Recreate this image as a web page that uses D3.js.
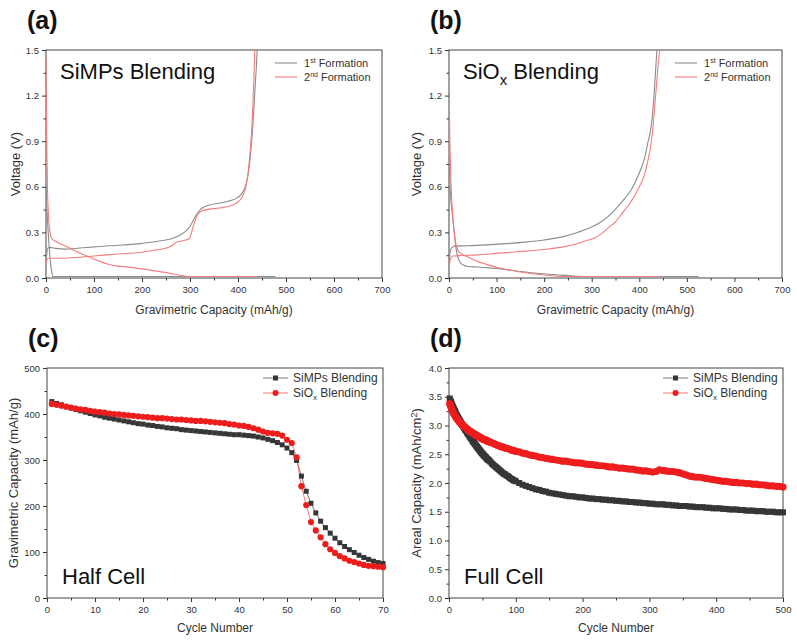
<!DOCTYPE html>
<html>
<head>
<meta charset="utf-8">
<script src="https://cdn.jsdelivr.net/npm/d3@7"></script>
<style>
  body { margin: 0; background: #fff; }
  text { font-family: "Liberation Sans", Arial, sans-serif; }
</style>
</head>
<body>
<script>
// ---------------- DATA ----------------
// (a) SiMPs Blending voltage profiles [capacity mAh/g, voltage V]
const a1Discharge = [[0,0.60],[2,0.45],[4,0.33],[6,0.23],[8,0.15],[10,0.08],[12,0.04],[14,0.012],[16,0.01],[478,0.01]];
const a1Charge = [[0,0.10],[2,0.17],[5,0.2],[10,0.2],[20,0.195],[40,0.19],[70,0.197],[100,0.205],[150,0.215],[200,0.228],[240,0.245],[265,0.262],[280,0.285],[292,0.31],[300,0.34],[307,0.38],[313,0.415],[320,0.445],[328,0.465],[340,0.48],[360,0.492],[380,0.505],[400,0.53],[410,0.565],[416,0.61],[421,0.68],[425,0.78],[429,0.92],[432,1.05],[435,1.22],[438,1.38],[440,1.5]];
const a2Discharge = [[0,1.45],[1,1.1],[2,0.8],[3,0.6],[5,0.42],[8,0.31],[12,0.26],[18,0.245],[30,0.225],[50,0.195],[70,0.165],[90,0.138],[110,0.112],[130,0.09],[150,0.078],[175,0.07],[200,0.06],[230,0.045],[260,0.03],[285,0.015],[295,0.01],[440,0.01]];
const a2Charge = [[0,0.10],[2,0.12],[5,0.13],[30,0.13],[60,0.135],[100,0.145],[150,0.158],[196,0.168],[230,0.185],[251,0.197],[262,0.212],[271,0.234],[285,0.245],[298,0.258],[306,0.33],[311,0.38],[316,0.416],[324,0.44],[335,0.45],[361,0.46],[385,0.475],[400,0.5],[410,0.54],[417,0.61],[422,0.72],[426,0.86],[429,1.0],[431,1.15],[433,1.3],[435,1.5]];
// (b) SiOx Blending voltage profiles
const b1Discharge = [[0,0.8],[1,0.7],[3,0.55],[6,0.45],[8.4,0.38],[12,0.27],[15.5,0.18],[19,0.135],[23,0.105],[30,0.085],[40,0.076],[60,0.072],[80,0.068],[100,0.062],[120,0.054],[150,0.043],[190,0.03],[230,0.02],[270,0.012],[290,0.01],[525,0.01]];
const b1Charge = [[0,0.03],[1,0.12],[3,0.18],[6,0.2],[12,0.21],[40,0.212],[80,0.218],[120,0.226],[160,0.236],[200,0.25],[240,0.272],[270,0.3],[300,0.335],[320,0.37],[340,0.42],[355,0.47],[370,0.525],[385,0.59],[395,0.655],[405,0.73],[412,0.8],[418,0.89],[423,0.96],[427,1.05],[431,1.2],[434,1.35],[437,1.5]];
const b2Discharge = [[0,1.5],[1,1.1],[3,0.75],[6,0.5],[10,0.33],[15,0.22],[20,0.175],[28,0.155],[40,0.138],[55,0.115],[80,0.088],[100,0.07],[125,0.055],[150,0.04],[180,0.026],[210,0.016],[240,0.01],[445,0.01]];
const b2Charge = [[0,0.03],[1,0.08],[3,0.125],[8,0.145],[30,0.148],[60,0.152],[100,0.162],[150,0.174],[200,0.188],[240,0.205],[265,0.222],[285,0.242],[305,0.262],[320,0.29],[335,0.33],[350,0.37],[365,0.43],[380,0.49],[390,0.54],[400,0.6],[410,0.67],[418,0.77],[424,0.87],[429,1.0],[433,1.15],[437,1.3],[440,1.42],[443,1.5]];

// (c) Half cell cycling, cycles 1..70 (mAh/g)
const halfCycles = d3.range(1, 71);
const halfSiMPs = [427,423,420,416,413,410,407,404,401,398,396,393,391,389,387,385,383,381,379,378,376,375,373,372,370,369,368,366,365,364,363,362,361,360,359,358,357,356,355,355,354,353,352,350,348,345,342,338,333,326,316,299,265,232,206,185,167,153,141,130,120,112,105,99,93,88,84,80,77,75];
const halfSiOx = [422,420,418,416,414,412,410,409,407,405,404,403,401,400,399,398,397,396,395,394,393,392,391,391,390,389,388,388,387,386,385,385,384,383,382,381,380,378,377,375,374,372,369,366,362,359,358,357,353,344,337,306,243,202,165,147,132,117,106,98,91,86,81,78,75,72,70,69,68,67];

// (d) Full cell cycling (mAh/cm2)
const fullCycles = [1,2,3,4,5,6,7,8,9,10,11,12,13,14,15,16,17,18,19,20,21,22,23,24,25,26,27,28,29,30,
  31,32,33,34,35,36,37,38,39,40,41,42,43,44,45,46,47,48,49,50,51,52,53,54,55,56,57,58,59,60,
  62,64,66,68,70,72,74,76,78,80,82,84,86,88,90,92,94,96,98,100,
  105,110,115,120,125,130,135,140,145,150,155,160,165,170,175,180,185,190,195,200,
  205,210,215,220,225,230,235,240,245,250,255,260,265,270,275,280,285,290,295,300,305,310,315,320,325,330,335,340,345,350,
  355,360,365,370,375,380,385,390,395,400,405,410,415,420,425,430,435,440,445,450,455,460,465,470,475,480,485,490,495,500];
const fullSiMPs = [3.47,3.44,3.41,3.38,3.35,3.32,3.30,3.27,3.25,3.22,3.19,3.17,3.15,3.13,3.11,3.09,3.07,3.05,3.03,3.01,
  2.99,2.97,2.95,2.93,2.92,2.90,2.88,2.86,2.85,2.83,2.81,2.79,2.78,2.76,2.74,2.72,2.71,2.69,2.68,2.66,
  2.64,2.63,2.61,2.60,2.58,2.57,2.55,2.54,2.52,2.51,2.50,2.48,2.47,2.46,2.45,2.43,2.42,2.41,2.40,2.39,
  2.37,2.34,2.32,2.30,2.28,2.26,2.24,2.22,2.20,2.18,2.16,2.15,2.13,2.12,2.10,2.08,2.07,2.05,2.04,2.03,
  2.00,1.97,1.95,1.93,1.91,1.89,1.88,1.86,1.85,1.83,
  1.82,1.81,1.80,1.79,1.78,1.77,1.77,1.76,1.75,1.75,1.74,1.73,1.73,1.72,1.72,1.71,1.71,1.70,1.70,1.69,
  1.69,1.68,1.68,1.67,1.67,1.66,1.66,1.65,1.65,1.64,1.64,1.63,1.63,1.63,1.62,1.62,1.61,1.61,1.60,1.60,
  1.60,1.59,1.59,1.58,1.58,1.58,1.57,1.57,1.56,1.56,1.56,1.55,1.55,1.54,1.54,1.54,1.53,1.53,1.52,1.52,
  1.52,1.51,1.51,1.51,1.50,1.50,1.50,1.49,1.49,1.49];
const fullSiOx = [3.38,3.35,3.32,3.29,3.26,3.23,3.21,3.19,3.17,3.15,3.13,3.12,3.10,3.09,3.07,3.06,3.05,3.03,3.02,3.01,
  3.00,2.99,2.98,2.97,2.96,2.95,2.94,2.93,2.92,2.91,2.90,2.90,2.89,2.88,2.87,2.87,2.86,2.85,2.84,2.84,
  2.83,2.82,2.82,2.81,2.80,2.80,2.79,2.78,2.78,2.77,2.76,2.76,2.75,2.75,2.75,2.74,2.73,2.73,2.72,2.72,
  2.71,2.70,2.69,2.68,2.67,2.66,2.65,2.64,2.63,2.63,2.62,2.61,2.60,2.60,2.59,2.58,2.57,2.57,2.56,2.55,
  2.54,2.52,2.51,2.49,2.48,2.47,2.45,2.44,2.43,2.42,
  2.41,2.40,2.39,2.38,2.38,2.37,2.36,2.35,2.35,2.34,2.33,2.32,2.32,2.31,2.30,2.30,2.29,2.28,2.28,2.27,
  2.26,2.26,2.25,2.24,2.24,2.23,2.22,2.21,2.21,2.20,2.19,2.20,2.23,2.22,2.21,2.20,2.20,2.19,2.18,2.16,
  2.14,2.12,2.11,2.10,2.10,2.09,2.08,2.07,2.06,2.05,2.04,2.03,2.03,2.02,2.01,2.01,2.00,2.00,1.99,1.99,
  1.98,1.98,1.97,1.97,1.96,1.95,1.95,1.94,1.94,1.93];

// ---------------- DRAW ----------------
const W = 797, H = 642;
const svg = d3.select("body").append("svg").attr("width", W).attr("height", H);
svg.append("rect").attr("width", W).attr("height", H).attr("fill", "#fff");

const GRAY = "#8c8c8c", PINK = "#f47c7c", DARK = "#363636", RED = "#ee1d1d";
const tickColor = "#333";

function panel(cfg) {
  const g = svg.append("g");
  const x = d3.scaleLinear().domain(cfg.xDomain).range([cfg.x0, cfg.x1]);
  const y = d3.scaleLinear().domain(cfg.yDomain).range([cfg.y1, cfg.y0]);

  g.append("g").attr("transform", `translate(0,${cfg.y1})`)
    .call(d3.axisBottom(x).tickValues(cfg.xMinor).tickSize(2.5).tickFormat(""))
    .call(s => { s.select(".domain").remove(); s.selectAll("line").attr("stroke", tickColor); });
  g.append("g").attr("transform", `translate(${cfg.x0},0)`)
    .call(d3.axisLeft(y).tickValues(cfg.yMinor).tickSize(2.5).tickFormat(""))
    .call(s => { s.select(".domain").remove(); s.selectAll("line").attr("stroke", tickColor); });
  g.append("g").attr("transform", `translate(0,${cfg.y1})`)
    .call(d3.axisBottom(x).tickValues(cfg.xTicks).tickSize(4).tickPadding(4).tickFormat(cfg.xFmt))
    .call(s => { s.select(".domain").remove(); s.selectAll("line").attr("stroke", tickColor);
      s.selectAll("text").attr("fill", "#333").attr("font-size", 9.5).attr("font-family", "Liberation Sans, Arial"); });
  g.append("g").attr("transform", `translate(${cfg.x0},0)`)
    .call(d3.axisLeft(y).tickValues(cfg.yTicks).tickSize(4).tickPadding(3).tickFormat(cfg.yFmt))
    .call(s => { s.select(".domain").remove(); s.selectAll("line").attr("stroke", tickColor);
      s.selectAll("text").attr("fill", "#333").attr("font-size", 9.5).attr("font-family", "Liberation Sans, Arial"); });

  g.append("rect").attr("x", cfg.x0).attr("y", cfg.y0)
    .attr("width", cfg.x1 - cfg.x0).attr("height", cfg.y1 - cfg.y0)
    .attr("fill", "none").attr("stroke", "#444").attr("stroke-width", 1);

  g.append("text").attr("x", (cfg.x0 + cfg.x1) / 2).attr("y", cfg.xTitleY)
    .attr("text-anchor", "middle").attr("font-size", 12).attr("fill", "#333").text(cfg.xTitle);
  const yt = g.append("text").attr("transform", `translate(${cfg.yTitleX},${(cfg.y0 + cfg.y1) / 2}) rotate(-90)`)
    .attr("text-anchor", "middle").attr("font-size", 13).attr("fill", "#333");
  cfg.yTitle(yt);

  g.append("text").attr("x", cfg.x0 - 19).attr("y", cfg.y0 - 21)
    .attr("font-size", 25).attr("font-weight", "bold").attr("fill", "#111").text(cfg.letter);

  return { g, x, y };
}

function profilePanel(cfg, curves, label) {
  const p = panel(cfg);
  const clipId = "clip" + cfg.letter.replace(/\W/g, "");
  svg.append("clipPath").attr("id", clipId).append("rect")
    .attr("x", cfg.x0).attr("y", cfg.y0 - 1).attr("width", cfg.x1 - cfg.x0).attr("height", cfg.y1 - cfg.y0 + 1);
  const line = d3.line().x(d => p.x(d[0])).y(d => p.y(d[1])).curve(d3.curveMonotoneX);
  const cg = p.g.append("g").attr("clip-path", `url(#${clipId})`);
  curves.forEach(c => {
    cg.append("path").datum(c.data).attr("d", line).attr("fill", "none")
      .attr("stroke", c.color).attr("stroke-width", 1.1);
  });
  label(p.g.append("text").attr("x", cfg.x0 + 14).attr("y", cfg.y0 + 29).attr("font-size", 22).attr("fill", "#111"));
  const lx = cfg.x1 - 107, ly = cfg.y0 + 13;
  [["1", "st", GRAY], ["2", "nd", PINK]].forEach((r, i) => {
    p.g.append("line").attr("x1", lx).attr("x2", lx + 22).attr("y1", ly + i * 14).attr("y2", ly + i * 14)
      .attr("stroke", r[2]).attr("stroke-width", 1.1);
    const t = p.g.append("text").attr("x", lx + 29).attr("y", ly + i * 14 + 4).attr("font-size", 11).attr("fill", "#333");
    t.append("tspan").text(r[0]);
    t.append("tspan").attr("dy", -4).attr("font-size", 7).text(r[1]);
    t.append("tspan").attr("dy", 4).text(" Formation");
  });
}

const vTicks = [0, 0.3, 0.6, 0.9, 1.2, 1.5];
const vMinor = [0.15, 0.45, 0.75, 1.05, 1.35];
const capTicks = d3.range(0, 701, 100);
const capMinor = d3.range(50, 700, 100);
const f1 = d3.format(".1f");

profilePanel({
  letter: "(a)", x0: 46, x1: 382, y0: 50, y1: 278, xDomain: [0, 700], yDomain: [0, 1.5],
  xTicks: capTicks, xMinor: capMinor, yTicks: vTicks, yMinor: vMinor, xFmt: d3.format("d"), yFmt: f1,
  xTitle: "Gravimetric Capacity (mAh/g)", xTitleY: 314, yTitleX: 20,
  yTitle: t => t.text("Voltage (V)")
}, [
  { data: a1Discharge, color: GRAY }, { data: a1Charge, color: GRAY },
  { data: a2Discharge, color: PINK }, { data: a2Charge, color: PINK }
], t => t.text("SiMPs Blending"));

profilePanel({
  letter: "(b)", x0: 449, x1: 782, y0: 50, y1: 278, xDomain: [0, 700], yDomain: [0, 1.5],
  xTicks: capTicks, xMinor: capMinor, yTicks: vTicks, yMinor: vMinor, xFmt: d3.format("d"), yFmt: f1,
  xTitle: "Gravimetric Capacity (mAh/g)", xTitleY: 314, yTitleX: 421,
  yTitle: t => t.text("Voltage (V)")
}, [
  { data: b1Discharge, color: GRAY }, { data: b1Charge, color: GRAY },
  { data: b2Discharge, color: PINK }, { data: b2Charge, color: PINK }
], t => { t.append("tspan").text("SiO"); t.append("tspan").attr("dy", 6).attr("font-size", 15).text("x");
          t.append("tspan").attr("dy", -6).text(" Blending"); });

function cyclePanel(cfg, xs, s1, s2, label, markerSize) {
  const p = panel(cfg);
  const l = d3.line().x((d, i) => p.x(xs[i])).y(d => p.y(d));
  const mg = p.g.append("g");
  mg.append("path").datum(s1).attr("d", l).attr("fill", "none").attr("stroke", "#555").attr("stroke-width", 0.8);
  mg.append("path").datum(s2).attr("d", l).attr("fill", "none").attr("stroke", "#f55").attr("stroke-width", 0.8);
  const sq = markerSize.sq;
  mg.selectAll("rect.m1").data(s1).join("rect").attr("class", "m1")
    .attr("x", (d, i) => p.x(xs[i]) - sq / 2).attr("y", d => p.y(d) - sq / 2)
    .attr("width", sq).attr("height", sq).attr("fill", DARK);
  mg.selectAll("circle.m2").data(s2).join("circle").attr("class", "m2")
    .attr("cx", (d, i) => p.x(xs[i])).attr("cy", d => p.y(d)).attr("r", markerSize.r).attr("fill", RED);
  const lx = cfg.x1 - 120, ly = cfg.y0 + 10;
  p.g.append("line").attr("x1", lx).attr("x2", lx + 25).attr("y1", ly).attr("y2", ly).attr("stroke", "#555").attr("stroke-width", 0.8);
  p.g.append("rect").attr("x", lx + 12.5 - 2.5).attr("y", ly - 2.5).attr("width", 5).attr("height", 5).attr("fill", DARK);
  p.g.append("line").attr("x1", lx).attr("x2", lx + 25).attr("y1", ly + 15).attr("y2", ly + 15).attr("stroke", "#f55").attr("stroke-width", 0.8);
  p.g.append("circle").attr("cx", lx + 12.5).attr("cy", ly + 15).attr("r", 3).attr("fill", RED);
  p.g.append("text").attr("x", lx + 30).attr("y", ly + 4).attr("font-size", 12).attr("fill", "#333").text("SiMPs Blending");
  const t2 = p.g.append("text").attr("x", lx + 30).attr("y", ly + 19).attr("font-size", 12).attr("fill", "#333");
  t2.append("tspan").text("SiO"); t2.append("tspan").attr("dy", 3).attr("font-size", 8).text("x");
  t2.append("tspan").attr("dy", -3).text(" Blending");
  p.g.append("text").attr("x", cfg.x0 + 15).attr("y", cfg.y1 - 14).attr("font-size", 22).attr("fill", "#111").text(label);
}

cyclePanel({
  letter: "(c)", x0: 47, x1: 383, y0: 368, y1: 598, xDomain: [0, 70], yDomain: [0, 500],
  xTicks: d3.range(0, 71, 10), xMinor: d3.range(5, 70, 10), yTicks: d3.range(0, 501, 100), yMinor: d3.range(50, 500, 100),
  xFmt: d3.format("d"), yFmt: d3.format("d"),
  xTitle: "Cycle Number", xTitleY: 632, yTitleX: 18,
  yTitle: t => t.text("Gravimetric Capacity (mAh/g)")
}, halfCycles, halfSiMPs, halfSiOx, "Half Cell", { sq: 5, r: 3.1 });

cyclePanel({
  letter: "(d)", x0: 449, x1: 783, y0: 368, y1: 598, xDomain: [0, 500], yDomain: [0, 4],
  xTicks: d3.range(0, 501, 100), xMinor: d3.range(50, 500, 100), yTicks: d3.range(0, 4.01, 0.5), yMinor: d3.range(0.25, 4, 0.5),
  xFmt: d3.format("d"), yFmt: f1,
  xTitle: "Cycle Number", xTitleY: 632, yTitleX: 421,
  yTitle: t => { t.append("tspan").text("Areal Capacity (mAh/cm"); t.append("tspan").attr("dy", -4).attr("font-size", 9).text("2");
                 t.append("tspan").attr("dy", 4).text(")"); }
}, fullCycles, fullSiMPs, fullSiOx, "Full Cell", { sq: 6, r: 3.6 });
</script>
</body>
</html>
